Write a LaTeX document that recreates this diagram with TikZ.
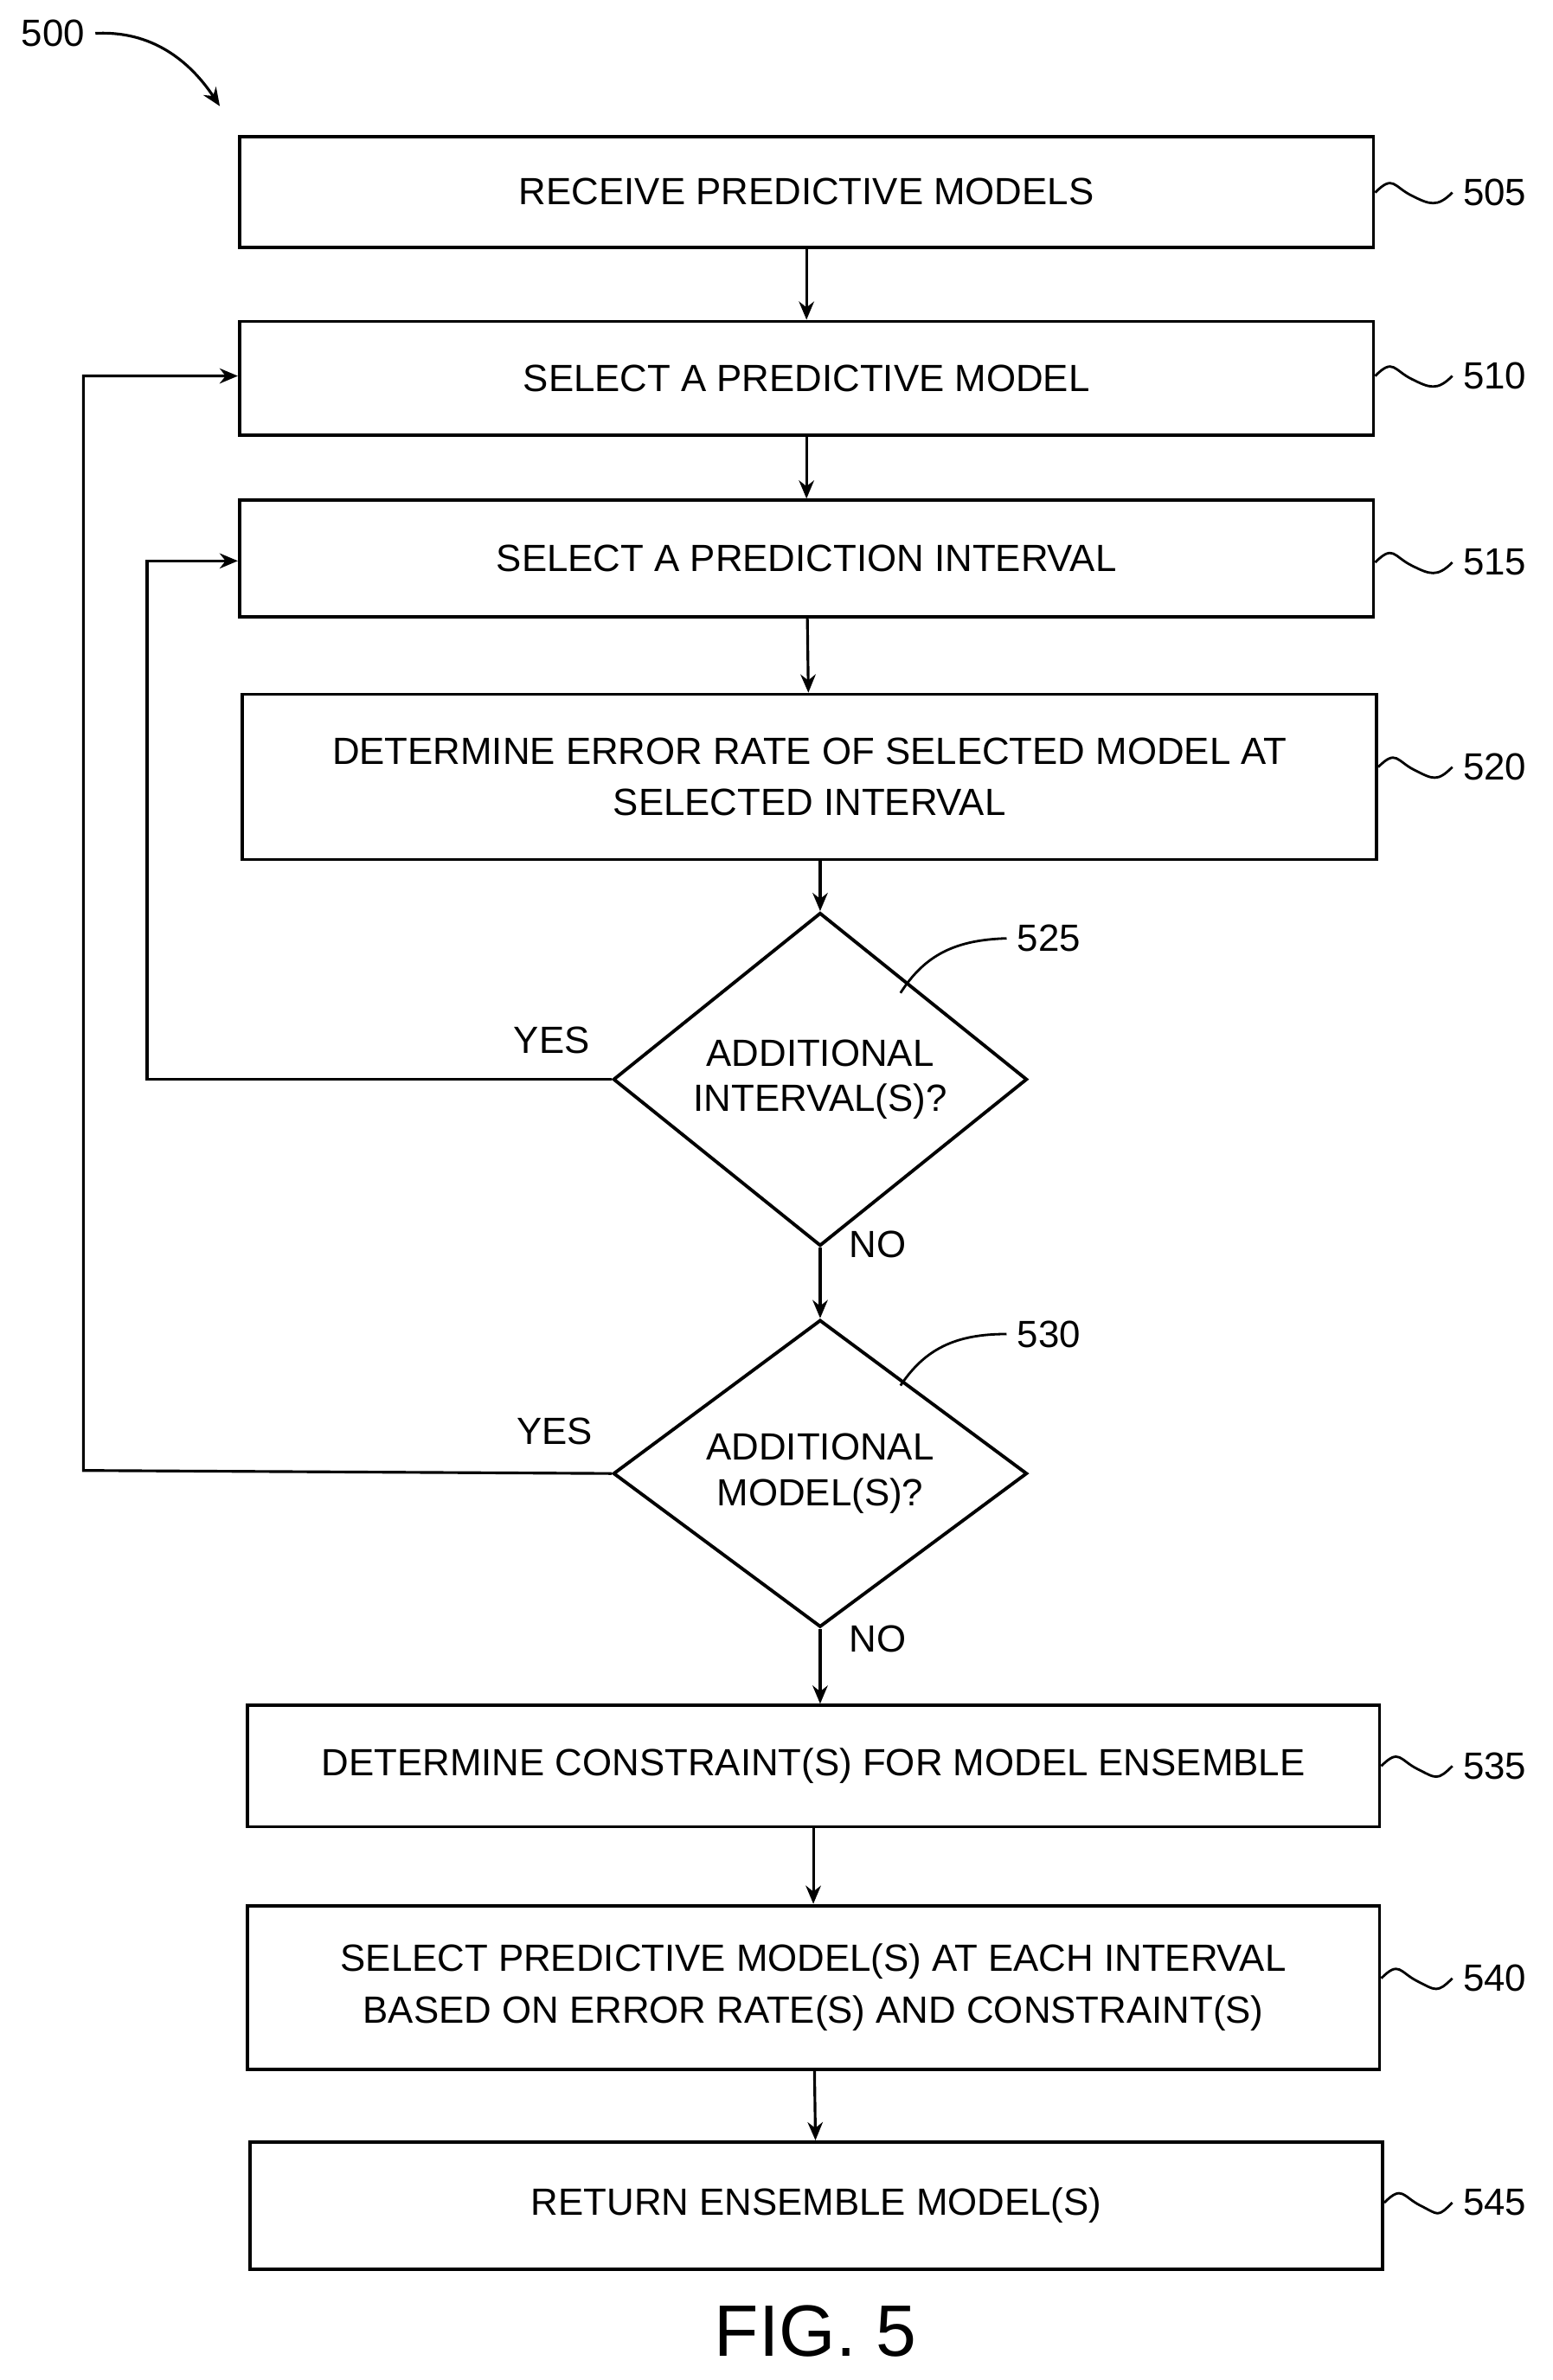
\documentclass[tikz,border=0pt]{standalone}
\usepackage{fontspec}
\setmainfont{Liberation Sans}
\usetikzlibrary{shapes.geometric,arrows.meta}
\begin{document}
\begin{tikzpicture}[x=0.5pt,y=-0.5pt,
  box/.style={draw,line width=1.1pt,inner sep=0pt,align=center,font=\fontsize{12.5}{17}\selectfont},
  dia/.style={draw,line width=1.1pt,diamond,inner sep=0pt,align=center,font=\fontsize{12.5}{15}\selectfont},
  lbl/.style={font=\fontsize{12.5}{15}\selectfont},
  arr/.style={line width=0.9pt,-{Stealth[length=6pt,width=5pt]}},
  sq/.style={line width=0.8pt}]
\useasboundingbox (0,0) rectangle (1024,1570);
\newcommand{\bx}[6]{\node[box,minimum width=#4*0.5pt,minimum height=#5*0.5pt] (#1) at (#2,#3) {#6};}
\bx{b505}{532}{126.5}{748}{73}{RECEIVE PREDICTIVE MODELS}
\bx{b510}{532}{249.5}{748}{75}{SELECT A PREDICTIVE MODEL}
\bx{b515}{532}{368.5}{748}{77}{SELECT A PREDICTION INTERVAL}
\bx{b520}{534}{512.5}{748}{109}{DETERMINE ERROR RATE OF SELECTED MODEL AT\\SELECTED INTERVAL}
\node[dia,minimum width=273*0.5pt,minimum height=193*0.5pt] (d525) at (541,712) {ADDITIONAL\\INTERVAL(S)?};
\node[dia,minimum width=273*0.5pt,minimum height=193*0.5pt] (d530) at (541,972) {ADDITIONAL\\MODEL(S)?};
\bx{b535}{536.5}{1165}{747}{80}{DETERMINE CONSTRAINT(S) FOR MODEL ENSEMBLE}
\bx{b540}{536.5}{1311}{747}{108}{SELECT PREDICTIVE MODEL(S) AT EACH INTERVAL\\BASED ON ERROR RATE(S) AND CONSTRAINT(S)}
\bx{b545}{538.5}{1455}{747}{84}{RETURN ENSEMBLE MODEL(S)}
\draw[arr] (b505) -- (b510);
\draw[arr] (b510) -- (b515);
\draw[arr] (b515) -- (b520);
\draw[arr] (b520.south -| d525.north) -- (d525.north);
\draw[arr] (d525.south) -- (d530.north);
\draw[arr] (d530.south) -- (d530.south |- b535.north);
\draw[arr] (b535) -- (b540);
\draw[arr] (b540) -- (b545);
\coordinate (c1) at (97,712); \coordinate (c2) at (97,370);
\draw[arr] (d525.west) -- (c1) -- (c2) -- (c2 -| b515.west);
\coordinate (c3) at (55,970); \coordinate (c4) at (55,248);
\draw[arr] (d530.west) -- (c3) -- (c4) -- (c4 -| b510.west);
\node[lbl] (y1) at (364,686) {YES};
\node[lbl] (n1) at (579,821) {NO};
\node[lbl] (y2) at (366,944) {YES};
\node[lbl] (n2) at (579,1081) {NO};
\foreach \n/\y/\b in {505/127/b505,510/248/b510,515/371/b515,520/506/b520,535/1165/b535,540/1305/b540,545/1453/b545}{
  \node[lbl,anchor=west] (r\n) at (958,\y) {\n};
  \draw[sq] (\b.east |- 0,\y) .. controls +(12,-12) and +(-12,-6) .. +(24,2) .. controls +(12,6) and +(-10,10) .. (r\n.west);
}
\node[lbl,anchor=west] (r525) at (664,619) {525};
\draw[sq] (594,655) .. controls (610,630) and (630,620) .. (r525.west);
\node[lbl,anchor=west] (r530) at (664,880) {530};
\draw[sq] (594,914) .. controls (610,890) and (630,880) .. (r530.west);
\node[lbl] (r500) at (35,22) {500};
\coordinate (e500) at (145,70);
\draw[arr] (r500.east) .. controls (100,20) and (125,40) .. (e500);
\node[font=\fontsize{24}{28}\selectfont] (fig) at (538,1538) {FIG. 5};
\end{tikzpicture}
\end{document}
